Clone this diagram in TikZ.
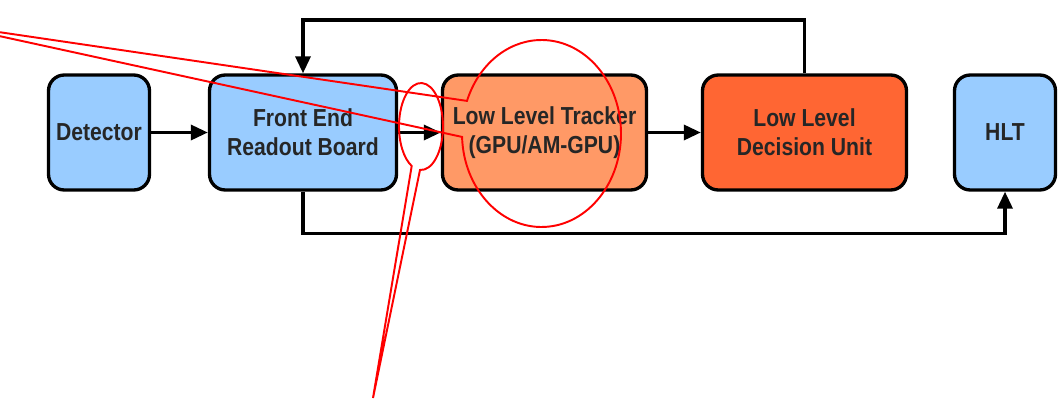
\documentclass[tikz,border=0pt]{standalone}
\usepackage{fontspec}
\setmainfont{Liberation Sans}
\newfontfamily\labelfont{Liberation Sans}[FakeStretch=0.86]
\usepackage{xcolor}
\usepackage{tikz}
\usetikzlibrary{arrows.meta,positioning,calc}

\definecolor{boxblue}{HTML}{99CCFF}
\definecolor{trackorange}{HTML}{FF9966}
\definecolor{decisionred}{HTML}{FF6633}
\definecolor{labelgray}{HTML}{262626}

\begin{document}
\begin{tikzpicture}[
    block/.style={rectangle, rounded corners=9pt, minimum height=2.3cm, text centered, draw=black, line width=1.9pt, text=labelgray, font=\labelfont\fontsize{14}{16.5}\selectfont\bfseries, align=center, inner sep=2pt},
    bluebox/.style={block, fill=boxblue, minimum width=2.02cm},
    arrow/.style={line width=1.9pt, -{Triangle[length=0.34cm, width=0.3cm]}},
    callout/.style={red, line width=1.1pt, line join=miter}
]
    \clip (0, 0) rectangle (21.16, 8.16);

    % Readout chain
    \node[bluebox] (det) at (1.98, 5.51) {Detector};
    \node[bluebox, minimum width=3.74cm] (fe) at (6.06, 5.51) {Front End\\Readout Board};
    \node[block, fill=trackorange, minimum width=4.08cm] (llt) at (10.89, 5.51) {Low Level Tracker\\(GPU/AM-GPU)};
    \node[block, fill=decisionred, minimum width=4.08cm] (lldu) at (16.09, 5.51) {Low Level\\Decision Unit};
    \node[bluebox] (hlt) at (20.10, 5.51) {HLT};

    \draw[arrow] (det) -- (fe);
    \draw[arrow] (fe) -- (llt);
    \draw[arrow] (llt) -- (lldu);

    % Decision fed back to the readout board
    \draw[arrow] (lldu.north) -- ++(0, 1.07) -| (fe.north);

    % Readout board straight to HLT
    \draw[arrow] (fe.south) -- ++(0, -0.83) -| (hlt.south);

    % Red callouts
    \coordinate (bigc) at (10.83, 5.49);
    \coordinate (bigtip) at (-1.12, 7.68);
    \draw[callout] ($(bigc)+(182.1:1.59cm and 1.87cm)$)
        arc[start angle=182.1, end angle=519.6, x radius=1.59cm, y radius=1.87cm]
        -- (bigtip) -- cycle;

    \coordinate (smallc) at (8.42, 5.63);
    \coordinate (smalltip) at (7.46, 0.20);
    \draw[callout] ($(smallc)+(-92.6:0.44cm and 0.87cm)$)
        arc[start angle=-92.6, end angle=245, x radius=0.44cm, y radius=0.87cm]
        -- (smalltip) -- cycle;

\end{tikzpicture}
\end{document}
